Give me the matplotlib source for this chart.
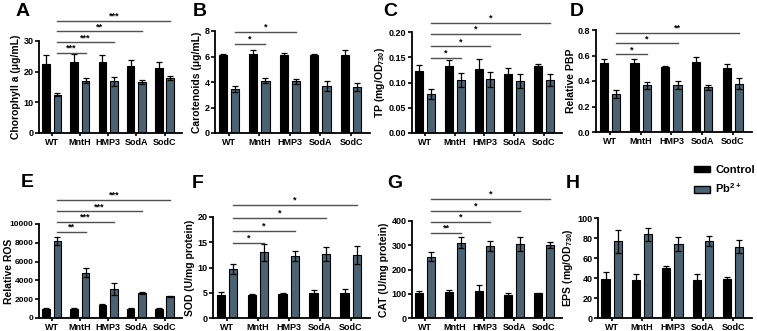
import numpy as np
import matplotlib
matplotlib.use("Agg")
import matplotlib.pyplot as plt
from matplotlib.patches import Patch

plt.rcParams['font.family'] = ['Liberation Sans', 'DejaVu Sans']
plt.rcParams['font.weight'] = 'bold'
plt.rcParams['mathtext.fontset'] = 'custom'
plt.rcParams['mathtext.rm'] = 'Liberation Sans:bold'
plt.rcParams['mathtext.it'] = 'Liberation Sans:bold'
plt.rcParams['mathtext.bf'] = 'Liberation Sans:bold'
plt.rcParams['mathtext.default'] = 'rm'

strains = ['WT', 'MntH', 'HMP3', 'SodA', 'SodC']

# A chlorophyll a
chl_ctrl = [22.6, 23.3, 23.0, 22.0, 21.2]
chl_ctrl_err = [2.7, 2.5, 2.5, 1.8, 2.1]
chl_pb = [12.5, 17.1, 16.9, 16.7, 18.0]
chl_pb_err = [0.5, 0.8, 1.5, 0.6, 0.6]

# B carotenoids
car_ctrl = [6.08, 6.23, 6.15, 6.15, 6.15]
car_ctrl_err = [0.15, 0.25, 0.15, 0.05, 0.33]
car_pb = [3.45, 4.1, 4.05, 3.69, 3.6]
car_pb_err = [0.2, 0.18, 0.22, 0.38, 0.3]

# C TP
tp_ctrl = [0.123, 0.133, 0.127, 0.116, 0.132]
tp_ctrl_err = [0.012, 0.012, 0.02, 0.013, 0.004]
tp_pb = [0.077, 0.105, 0.106, 0.103, 0.105]
tp_pb_err = [0.01, 0.014, 0.015, 0.013, 0.012]

# D PBP
pbp_ctrl = [0.539, 0.539, 0.513, 0.55, 0.505]
pbp_ctrl_err = [0.03, 0.035, 0.008, 0.035, 0.03]
pbp_pb = [0.297, 0.365, 0.367, 0.352, 0.38]
pbp_pb_err = [0.03, 0.025, 0.03, 0.02, 0.04]

# E ROS
ros_ctrl = [1000, 1000, 1330, 1000, 1000]
ros_ctrl_err = [100, 80, 170, 60, 60]
ros_pb = [8217, 4825, 3077, 2657, 2308]
ros_pb_err = [450, 450, 620, 70, 70]

# F SOD
sod_ctrl = [4.46, 4.46, 4.66, 4.9, 4.9]
sod_ctrl_err = [0.6, 0.35, 0.3, 0.6, 0.9]
sod_pb = [9.77, 12.98, 12.26, 12.6, 12.46]
sod_pb_err = [1.0, 1.6, 1.05, 1.4, 1.8]

# G CAT
cat_ctrl = [101.7, 107, 111, 96, 101.7]
cat_ctrl_err = [11, 9, 26, 8, 3]
cat_pb = [253.6, 310.5, 297, 305, 299.7]
cat_pb_err = [17, 22, 20, 27, 13]

# H EPS
eps_ctrl = [39.3, 37.7, 50.2, 37.7, 38.7]
eps_ctrl_err = [6.6, 6.0, 2.3, 6.0, 2.6]
eps_pb = [77, 83.6, 73.8, 77.4, 71.5]
eps_pb_err = [11.5, 6.9, 6.9, 4.9, 6.6]

# significance brackets: (target index, height, label)
sig_A = [(1, 26.2, '***'), (2, 29.6, '***'), (3, 33.2, '**'), (4, 36.6, '***')]
sig_B = [(1, 7.0, '*'), (2, 7.92, '*')]
sig_C = [(1, 0.1485, '*'), (2, 0.172, '*'), (3, 0.197, '*'), (4, 0.218, '*')]
sig_D = [(1, 0.61, '*'), (2, 0.696, '*'), (4, 0.779, '**')]
sig_E = [(1, 9200, '**'), (2, 10245, '***'), (3, 11364, '***'), (4, 12587, '***')]
sig_F = [(1, 14.9, '*'), (2, 17.25, '*'), (3, 19.8, '*'), (4, 22.4, '*')]
sig_G = [(1, 351, '**'), (2, 396, '*'), (3, 443, '*'), (4, 491, '*')]

pb_color = '#4a6373'
W, H = 757, 331

fig = plt.figure(figsize=(W / 100, H / 100), dpi=100)


def add_ax(l, r, b, t):
    return fig.add_axes([l / W, 1 - b / H, (r - l) / W, (b - t) / H])


def panel(box, ctrl, ctrl_err, pb, pb_err, ymax, yticks, ylabel, sig, letter, letter_xy, ytl=None):
    ax = add_ax(*box)
    x = np.arange(len(strains))
    bw = 0.27
    ax.bar(x - 0.2, ctrl, bw, color='black', edgecolor='black', lw=0.8, zorder=2)
    ax.bar(x + 0.2, pb, bw, color=pb_color, edgecolor='black', lw=0.8, zorder=2)
    ax.errorbar(x - 0.2, ctrl, yerr=ctrl_err, fmt='none', ecolor='black', elinewidth=0.9, capsize=2.2, capthick=0.9, zorder=3)
    ax.errorbar(x + 0.2, pb, yerr=pb_err, fmt='none', ecolor='black', elinewidth=0.9, capsize=2.2, capthick=0.9, zorder=3)
    ax.set_xlim(-0.45, 4.62)
    ax.set_ylim(0, ymax)
    ax.set_yticks(yticks)
    if ytl is not None:
        ax.set_yticklabels(ytl)
    ax.set_xticks(x)
    ax.set_xticklabels(strains)
    for lab in ax.get_xticklabels() + ax.get_yticklabels():
        lab.set_fontsize(6.5)
        lab.set_fontweight('bold')
    ax.set_ylabel(ylabel, fontsize=7.5, fontweight='bold', labelpad=1.5)
    for s in ['top', 'right']:
        ax.spines[s].set_visible(False)
    for s in ['left', 'bottom']:
        ax.spines[s].set_linewidth(1.3)
    ax.tick_params(axis='y', length=3, width=1.2, pad=1)
    ax.tick_params(axis='x', length=2.5, width=1.2, pad=1)
    for idx, h, lab in sig:
        ax.plot([0.2, idx + 0.2], [h, h], color='#505050', lw=1, clip_on=False, zorder=4)
        ax.text((0.2 + idx + 0.2) / 2, h, lab, ha='center', va='bottom', fontsize=6.5, clip_on=False)
    fig.text(letter_xy[0] / W, 1 - letter_xy[1] / H, letter, fontsize=14, fontweight='bold', ha='center', va='center')
    return ax


panel((39, 182, 133, 41), chl_ctrl, chl_ctrl_err, chl_pb, chl_pb_err, 30, [0, 10, 20, 30],
      'Chorophyll a (μg/mL)', sig_A, 'A', (23, 12))
panel((215, 370, 133, 31), car_ctrl, car_ctrl_err, car_pb, car_pb_err, 8, [0, 2, 4, 6, 8],
      'Carotenoids (μg/mL)', sig_B, 'B', (200, 12))
panel((412, 562, 133, 32), tp_ctrl, tp_ctrl_err, tp_pb, tp_pb_err, 0.2, [0, 0.05, 0.10, 0.15, 0.20],
      r'TP (mg/OD$_{730}$)', sig_C, 'C', (390, 12), ['0.00', '0.05', '0.10', '0.15', '0.20'])
panel((596, 752, 132, 30), pbp_ctrl, pbp_ctrl_err, pbp_pb, pbp_pb_err, 0.8, [0, 0.2, 0.4, 0.6, 0.8],
      'Relative PBP', sig_D, 'D', (577, 12), ['0.0', '0.2', '0.4', '0.6', '0.8'])

axE = panel((39, 182, 318, 224), ros_ctrl, ros_ctrl_err, ros_pb, ros_pb_err, 10000, [0, 2000, 4000, 6000, 8000, 10000],
            'Relative ROS', sig_E, 'E', (27, 183))
for lab in axE.get_yticklabels():
    lab.set_fontsize(6)
axE.yaxis.label.set_verticalalignment('center')
axE.yaxis.set_label_coords(-(39 - 9.5) / 143, 0.5)
panel((213, 370, 318, 217), sod_ctrl, sod_ctrl_err, sod_pb, sod_pb_err, 20, [0, 5, 10, 15, 20],
      'SOD (U/mg protein)', sig_F, 'F', (198, 184))
panel((412, 562, 318, 221), cat_ctrl, cat_ctrl_err, cat_pb, cat_pb_err, 400, [0, 100, 200, 300, 400],
      'CAT (U/mg protein)', sig_G, 'G', (395, 184))
panel((598, 752, 318, 218), eps_ctrl, eps_ctrl_err, eps_pb, eps_pb_err, 100, [0, 20, 40, 60, 80, 100],
      r'EPS (mg/OD$_{730}$)', [], 'H', (573, 184))

handles = [Patch(facecolor='black', edgecolor='black', label='Control'),
           Patch(facecolor=pb_color, edgecolor='black', label=r'Pb$^{2+}$')]
fig.legend(handles=handles, loc='upper left', bbox_to_anchor=(694 / W, 1 - 165 / H), frameon=False,
           prop={'size': 8, 'weight': 'bold'}, handlelength=1.4, handleheight=0.55, handletextpad=0.5,
           labelspacing=0.6, borderaxespad=0, borderpad=0)

fig.savefig('out.png', dpi=100)
